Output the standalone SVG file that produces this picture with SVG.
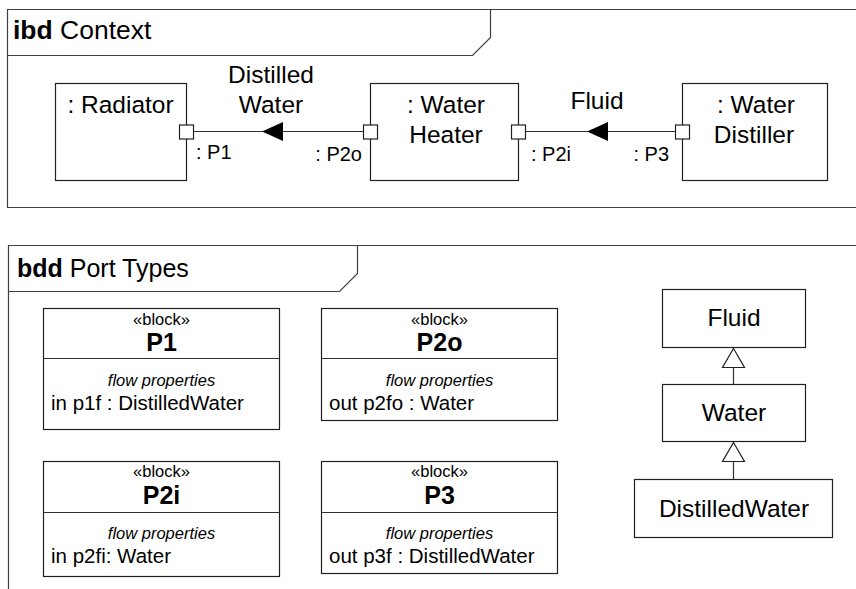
<svg xmlns="http://www.w3.org/2000/svg" width="856" height="589" viewBox="0 0 856 589">
<defs>
<style>
text{font-family:"Liberation Sans",Arial,sans-serif;fill:#000}
.frame{fill:none;stroke:#404040;stroke-width:1.2}
.box{fill:#fff;stroke:#202020;stroke-width:1.2}
.port{fill:#fff;stroke:#202020;stroke-width:1.2}
.conn{fill:none;stroke:#303030;stroke-width:1.2}
.lbl{font-size:24.5px}
.plbl{font-size:20px}
.hdr{font-size:25px}
.st{font-size:16.5px;text-anchor:middle}
.nm{font-size:25px;font-weight:bold;text-anchor:middle}
.fp{font-size:16.5px;font-style:italic;text-anchor:middle}
.pr{font-size:20.5px}
.mid{text-anchor:middle}
</style>
</defs>

<g id="frame-ibd">
<path class="frame" d="M870,9.5 H7.5 V207.5 H870"/>
<path class="frame" d="M7.5,55.5 H472.5 L490.5,37.5 V9.5"/>
<text class="hdr" x="13" y="39" style="font-size:26.5px"><tspan font-weight="bold">ibd</tspan> Context</text>
</g>

<g id="frame-bdd">
<path class="frame" d="M870,245.5 H8.5 V600"/>
<path class="frame" d="M8.5,291.5 H339.5 L357.5,273.5 V245.5"/>
<text class="hdr" x="17" y="277"><tspan font-weight="bold">bdd</tspan> Port Types</text>
</g>

<g id="connectors">
<line class="conn" x1="363" y1="131.5" x2="193" y2="131.5"/>
<path d="M262,131.5 L283,122 L283,141 Z" fill="#000"/>
<line class="conn" x1="675" y1="131.5" x2="525" y2="131.5"/>
<path d="M587,131.5 L608,122 L608,141 Z" fill="#000"/>
<text class="lbl mid" x="271" y="83">Distilled</text>
<text class="lbl mid" x="271" y="113">Water</text>
<text class="lbl mid" x="597" y="109">Fluid</text>
<line class="conn" x1="733.5" y1="384" x2="733.5" y2="367"/>
<path d="M733.5,348.5 L744.5,367.5 L722.5,367.5 Z" fill="#fff" stroke="#202020" stroke-width="1.2"/>
<line class="conn" x1="733.5" y1="479" x2="733.5" y2="461"/>
<path d="M733.5,442.5 L744.5,461.5 L722.5,461.5 Z" fill="#fff" stroke="#202020" stroke-width="1.2"/>
</g>

<g id="radiator">
<rect class="box" x="55.5" y="83.5" width="131" height="97"/>
<text class="lbl mid" x="120.5" y="113">: Radiator</text>
<rect class="port" x="179.5" y="125" width="14" height="14"/>
<text class="plbl" x="196" y="159">: P1</text>
</g>

<g id="water-heater">
<rect class="box" x="370.5" y="83.5" width="148" height="97"/>
<text class="lbl mid" x="446" y="113">: Water</text>
<text class="lbl mid" x="446" y="143">Heater</text>
<rect class="port" x="363.5" y="125" width="14" height="14"/>
<text class="plbl" x="362" y="161" text-anchor="end">: P2o</text>
<rect class="port" x="511.5" y="125" width="14" height="14"/>
<text class="plbl" x="531" y="161">: P2i</text>
</g>

<g id="water-distiller">
<rect class="box" x="682.5" y="83.5" width="145" height="97"/>
<text class="lbl mid" x="756" y="113">: Water</text>
<text class="lbl mid" x="754" y="143">Distiller</text>
<rect class="port" x="675.5" y="125" width="14" height="14"/>
<text class="plbl" x="669" y="161" text-anchor="end">: P3</text>
</g>

<g id="block-P1">
<rect class="box" x="43.5" y="308.5" width="236" height="121"/>
<line class="conn" x1="43.5" y1="358.5" x2="279.5" y2="358.5"/>
<text class="st" x="161.5" y="325">«block»</text>
<text class="nm" x="161.5" y="351">P1</text>
<text class="fp" x="161.5" y="386">flow properties</text>
<text class="pr" x="51" y="410">in p1f : DistilledWater</text>
</g>

<g id="block-P2o">
<rect class="box" x="321.5" y="308.5" width="236" height="112"/>
<line class="conn" x1="321.5" y1="358.5" x2="557.5" y2="358.5"/>
<text class="st" x="439.5" y="325">«block»</text>
<text class="nm" x="439.5" y="351">P2o</text>
<text class="fp" x="439.5" y="386">flow properties</text>
<text class="pr" x="329" y="410">out p2fo : Water</text>
</g>

<g id="block-P2i">
<rect class="box" x="43.5" y="461.5" width="236" height="115"/>
<line class="conn" x1="43.5" y1="512.5" x2="279.5" y2="512.5"/>
<text class="st" x="161.5" y="477">«block»</text>
<text class="nm" x="161.5" y="504">P2i</text>
<text class="fp" x="161.5" y="539">flow properties</text>
<text class="pr" x="51" y="563">in p2fi: Water</text>
</g>

<g id="block-P3">
<rect class="box" x="321.5" y="461.5" width="236" height="112"/>
<line class="conn" x1="321.5" y1="512.5" x2="557.5" y2="512.5"/>
<text class="st" x="439.5" y="477">«block»</text>
<text class="nm" x="439.5" y="504">P3</text>
<text class="fp" x="439.5" y="539">flow properties</text>
<text class="pr" x="329" y="563">out p3f : DistilledWater</text>
</g>

<g id="fluid">
<rect class="box" x="662.5" y="289.5" width="143" height="58"/>
<text class="lbl mid" x="734" y="326">Fluid</text>
</g>

<g id="water">
<rect class="box" x="662.5" y="384.5" width="143" height="57"/>
<text class="lbl mid" x="734" y="421">Water</text>
</g>

<g id="distilled-water">
<rect class="box" x="634.5" y="479.5" width="198" height="58"/>
<text class="lbl mid" x="734" y="517">DistilledWater</text>
</g>
</svg>
